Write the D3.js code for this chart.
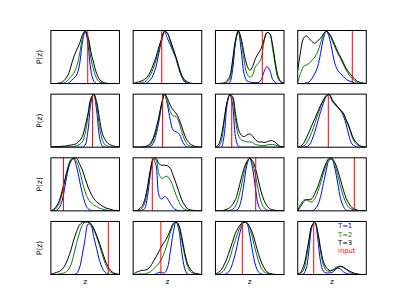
<!DOCTYPE html>
<html><head><meta charset="utf-8">
<script src="https://cdn.jsdelivr.net/npm/d3@7"></script>
<style>html,body{margin:0;padding:0;background:#fff;}svg{display:block;}</style>
</head><body>
<svg id="chart" width="407" height="305"></svg>
<script>
// z sample grid (index units)
const zGrid = [0,1,2,3,4,5,6,7,8,9,10,11,12,13,14,15,16,17,18,19,20,21,22,23,24];
// P(z) for T=1 (blue), one row per panel (row-major 4x4)
const t1 = [
[0,0,0,0,0,0,0,5,10,16,35,76,98,73,25,5,0,0,0,0,0,0,0,0,0],
[0,0,0,0,0,2,7,16,32,57,82,98,85,73,60,47,28,13,3,0,0,0,0,0,0],
[0,0,0,0,0,2,25,76,99,63,19,5,3,2,2,2,7,22,32,25,8,2,0,0,0],
[0,0,0,1,3,10,19,32,57,85,99,88,63,38,25,19,13,8,5,3,1,0,0,0,0],
[0,0,0,0,0,0,0,0,0,0,0,0,4,32,83,100,70,20,2,0,0,0,0,0,0],
[0,0,0,0,0,0,1,7,23,48,80,100,80,51,32,29,26,14,4,0,0,0,0,0,0],
[0,0,0,20,77,100,80,20,2,0,0,0,0,0,0,0,0,0,0,0,0,0,0,0,0],
[0,0,0,1,4,14,29,48,67,83,96,100,88,81,75,69,59,42,20,6,2,0,0,0,0],
[0,0,1,6,20,48,77,96,98,83,58,33,14,4,1,0,0,0,0,0,0,0,0,0,0],
[0,0,0,1,4,27,68,97,86,30,22,27,23,14,6,2,0,0,0,0,0,0,0,0,0],
[0,0,0,0,0,0,0,0,4,20,52,86,99,80,42,11,1,0,0,0,0,0,0,0,0],
[0,0,0,0,0,0,3,11,27,52,77,96,97,80,52,23,8,1,0,0,0,0,0,0,0],
[0,0,0,0,0,0,0,0,0,2,12,37,68,95,93,71,49,27,12,4,1,0,0,0,0],
[0,0,0,0,0,0,0,0,1,4,4,3,12,43,78,99,84,43,12,1,0,0,0,0,0],
[0,0,0,0,2,8,21,40,65,87,99,96,74,43,18,5,1,0,0,0,0,0,0,0,0],
[0,0,1,12,49,90,98,68,24,6,3,3,4,8,12,10,5,2,1,0,0,0,0,0,0]
];
// P(z) for T=2 (green)
const t2 = [
[0,0,0,0,0,2,7,13,19,32,54,85,99,85,48,25,10,3,1,0,0,0,0,0,0],
[0,0,0,2,3,8,16,28,44,63,82,99,95,79,63,47,28,13,5,2,0,0,0,0,0],
[0,0,0,0,2,8,38,79,99,79,44,19,12,16,32,38,47,79,96,94,66,32,8,2,0],
[3,19,32,35,38,44,50,60,76,91,99,94,82,69,57,47,35,25,16,10,5,2,0,0,0],
[0,0,0,0,0,0,0,0,1,3,5,10,26,58,89,100,80,39,14,4,2,0,0,0,0],
[0,0,0,0,0,1,4,14,29,54,83,100,86,67,59,58,48,29,14,5,2,0,0,0,0],
[0,1,10,45,83,98,92,51,23,14,12,10,10,9,5,4,3,3,4,5,5,4,2,1,0],
[0,0,2,7,17,29,45,61,76,89,98,100,89,81,75,70,62,50,36,20,9,4,2,0,0],
[0,1,6,15,33,58,83,97,99,93,77,55,36,23,16,11,8,5,3,2,1,0,0,0,0],
[0,0,1,4,14,39,74,97,96,70,61,64,65,58,45,30,17,8,3,1,0,0,0,0,0],
[0,0,0,0,0,1,3,9,23,45,71,91,99,89,67,39,17,6,2,0,0,0,0,0,0],
[1,12,20,21,18,17,23,36,52,71,86,97,97,86,67,45,27,14,6,3,1,0,0,0,0],
[0,0,0,1,2,4,8,18,37,59,78,93,99,99,94,84,71,55,37,21,10,4,2,1,0],
[0,0,1,1,1,3,5,10,15,21,30,43,59,78,93,99,90,65,37,17,6,2,0,0,0],
[0,1,3,8,18,30,49,65,81,93,99,96,87,68,46,27,13,5,2,1,0,0,0,0,0],
[0,2,8,30,65,93,98,78,43,18,8,6,8,12,15,16,14,10,5,2,1,0,0,0,0]
];
// P(z) for T=3 (black)
const t3 = [
[0,0,0,1,3,8,16,32,50,63,75,91,99,88,60,38,19,8,3,1,0,0,0,0,0],
[0,2,3,5,8,13,22,35,50,69,85,99,95,82,66,50,32,16,7,3,1,0,0,0,0],
[0,0,0.5,1,5,13,44,82,99,85,57,35,25,32,47,57,66,82,96,94,73,38,13,3,1],
[25,60,85,90,85,79,76,81,85,93,99,94,85,73,60,50,39,28,20,14,8,4,2,1,0],
[1,1,1,1,2,2,3,4,5,7,12,20,39,64,92,100,86,54,26,14,7,4,2,1,1],
[0,0,0,0,1,3,7,17,35,57,83,100,92,79,70,64,54,39,23,12,6,3,1,0,0],
[0,4,20,51,83,98,95,64,35,23,20,23,25,21,14,10,10,9,10,12,12,9,4,1,0],
[0,2,7,17,29,42,54,67,79,89,96,100,90,83,76,70,64,51,39,23,12,6,2,1,0],
[0,3,9,20,39,61,80,93,99,99,89,77,61,45,33,23,17,13,9,6,4,3,1,1,0],
[0,0,3,8,20,45,77,97,99,89,86,86,85,80,67,52,36,21,11,4,2,1,0,0,0],
[0,0,0,1,3,6,12,21,39,61,80,93,99,94,80,58,36,20,10,4,2,1,0,0,0],
[1,8,17,21,21,23,33,45,61,77,91,99,99,91,77,58,39,23,13,6,3,1,0,0,0],
[1,2,4,6,10,18,30,46,65,81,93,98,99,99,96,87,74,59,43,27,15,7,3,1,0],
[0,4,6,8,8,10,15,24,33,43,54,62,71,84,96,99,93,71,43,21,10,4,2,1,0],
[1,4,8,18,30,46,62,78,88,96,99,98,90,78,59,40,24,13,5,2,1,0,0,0,0],
[1,4,15,37,68,93,98,81,49,24,13,8,8,10,13,15,13,10,7,4,2,1,0,0,0]
];
// input z position per panel (index units)
const inputZ = [12.9,10.0,16.4,19.1,14.6,10.3,5.7,10.7,4.4,6.7,14.1,19.8,20.1,9.7,9.4,5.6];
const seriesNames = ["T=1","T=2","T=3","input"];
const seriesColors = ["#0000ff","#008000","#000000","#ff0000"];
const yLabel = "P(z)", xLabel = "z";

const svg = d3.select("#chart");
const W = 407, H = 305;
const cols = d3.scaleBand().domain([0,1,2,3]).range([0.125*W, 0.9*W]).paddingInner(0.2/1.2);
const rows = d3.scaleBand().domain([0,1,2,3]).range([0.1*H, 0.9*H]).paddingInner(0.2/1.2);
const bw = cols.bandwidth(), bh = rows.bandwidth();
const x = d3.scaleLinear().domain([0, 24]).range([0, bw]);
const y = d3.scaleLinear().domain([0, 100]).range([bh, 0]);
const line = d3.line().x((d,i)=>x(zGrid[i])).y(d=>y(d)).curve(d3.curveCatmullRom.alpha(0.5));

const defs = svg.append("defs");
defs.append("clipPath").attr("id","clip").append("rect")
  .attr("x",0).attr("y",-0.5).attr("width",bw).attr("height",bh+0.5);

for (let k=0;k<16;k++){
  const r = Math.floor(k/4), c = k%4;
  const g = svg.append("g").attr("transform",`translate(${cols(c)},${rows(r)})`);
  const pg = g.append("g").attr("clip-path","url(#clip)");
  [t1[k],t2[k],t3[k]].forEach((s,j)=>{
    pg.append("path").attr("d",line(s)).attr("fill","none")
      .attr("stroke",seriesColors[j]).attr("stroke-width",1);
  });
  pg.append("line").attr("x1",x(inputZ[k])).attr("x2",x(inputZ[k]))
    .attr("y1",0).attr("y2",bh).attr("stroke",seriesColors[3]).attr("stroke-width",1);
  g.append("rect").attr("x",0).attr("y",0).attr("width",bw).attr("height",bh)
    .attr("fill","none").attr("stroke","#000").attr("stroke-width",1);
  if (c===0){
    g.append("text").attr("transform",`translate(-9,${bh/2}) rotate(-90)`)
      .attr("text-anchor","middle").attr("font-family","DejaVu Sans").attr("font-size",7.5)
      .attr("fill","#000").text(yLabel);
  }
  if (r===3){
    g.append("text").attr("x",bw/2).attr("y",bh+10).attr("text-anchor","middle")
      .attr("font-family","DejaVu Sans").attr("font-size",7.5).attr("fill","#000").text(xLabel);
  }
  if (k===15){
    seriesNames.forEach((n,j)=>{
      g.append("text").attr("x",x(14.1)).attr("y",7+j*8.2)
        .attr("font-family","DejaVu Sans").attr("font-size",6.8).attr("fill",seriesColors[j])
        .text(n);
    });
  }
}
</script>
</body></html>
